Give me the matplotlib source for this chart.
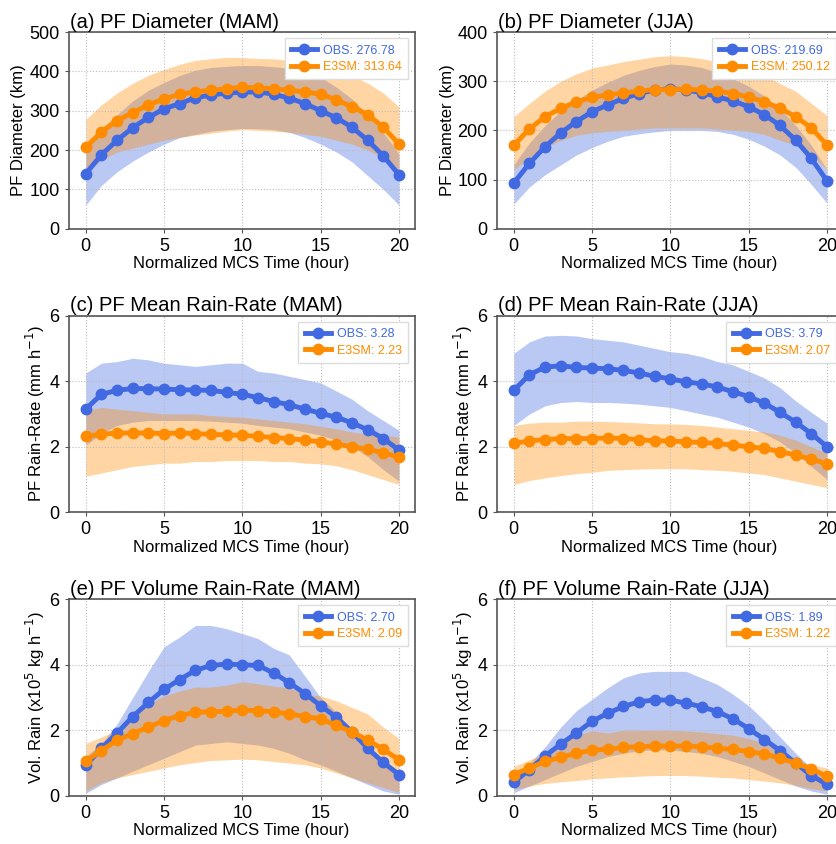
import numpy as np
import matplotlib.pyplot as plt

plt.rcParams['font.family'] = ['Liberation Sans', 'DejaVu Sans']

hours = np.arange(21)

# (a) PF diameter MAM
obs_a = [140, 188, 225, 257, 283, 305, 318, 333, 340, 345, 347, 348, 342, 332, 318, 300, 282, 258, 225, 185, 137]
obs_a_lo = [60, 110, 145, 172, 195, 215, 232, 240, 248, 252, 255, 254, 252, 245, 232, 215, 195, 170, 135, 100, 60]
obs_a_hi = [195, 255, 290, 325, 352, 372, 390, 403, 410, 413, 415, 415, 412, 408, 400, 385, 360, 330, 290, 245, 190]
e3_a = [207, 246, 275, 295, 315, 330, 342, 348, 352, 356, 360, 358, 356, 352, 348, 342, 328, 310, 290, 258, 215]
e3_a_lo = [140, 175, 195, 205, 215, 225, 232, 238, 243, 248, 252, 250, 248, 245, 240, 235, 225, 215, 200, 180, 145]
e3_a_hi = [278, 315, 345, 370, 390, 405, 418, 428, 432, 436, 435, 433, 432, 428, 420, 412, 400, 390, 370, 345, 310]

# (b) PF diameter JJA
obs_b = [93, 133, 167, 195, 218, 238, 252, 265, 275, 282, 285, 282, 277, 268, 260, 248, 232, 210, 180, 143, 97]
obs_b_lo = [50, 85, 110, 130, 150, 165, 178, 188, 193, 197, 200, 200, 200, 198, 192, 182, 168, 150, 125, 90, 52]
obs_b_hi = [130, 175, 210, 240, 262, 282, 298, 312, 322, 330, 335, 333, 328, 318, 305, 290, 270, 245, 210, 170, 120]
e3_b = [170, 203, 228, 245, 258, 267, 272, 276, 280, 283, 283, 284, 282, 280, 275, 268, 258, 245, 228, 205, 170]
e3_b_lo = [120, 145, 165, 180, 190, 195, 198, 200, 203, 205, 205, 205, 205, 203, 200, 198, 192, 180, 170, 150, 120]
e3_b_hi = [228, 255, 280, 300, 315, 327, 333, 340, 345, 350, 352, 350, 346, 340, 333, 325, 313, 295, 280, 255, 230]

# (c) mean rain rate MAM
obs_c = [3.15, 3.6, 3.72, 3.78, 3.77, 3.76, 3.74, 3.73, 3.72, 3.66, 3.6, 3.5, 3.38, 3.28, 3.15, 3.02, 2.9, 2.73, 2.52, 2.25, 1.9]
obs_c_lo = [2.05, 2.4, 2.65, 2.75, 2.8, 2.8, 2.8, 2.8, 2.78, 2.75, 2.72, 2.65, 2.6, 2.55, 2.45, 2.35, 2.2, 2.0, 1.7, 1.3, 0.95]
obs_c_hi = [4.25, 4.55, 4.6, 4.7, 4.65, 4.55, 4.5, 4.45, 4.5, 4.55, 4.55, 4.3, 4.25, 4.15, 4.05, 3.95, 3.7, 3.45, 3.1, 2.8, 2.5]
e3_c = [2.32, 2.38, 2.42, 2.42, 2.42, 2.4, 2.42, 2.4, 2.38, 2.36, 2.35, 2.32, 2.28, 2.25, 2.2, 2.15, 2.08, 2.0, 1.92, 1.82, 1.68]
e3_c_lo = [1.1, 1.2, 1.3, 1.4, 1.45, 1.5, 1.5, 1.55, 1.55, 1.58, 1.58, 1.58, 1.55, 1.55, 1.5, 1.48, 1.42, 1.3, 1.15, 1.0, 0.85]
e3_c_hi = [3.1, 3.2, 3.15, 3.1, 3.05, 3.0, 3.0, 3.0, 2.95, 2.92, 2.9, 2.85, 2.8, 2.75, 2.7, 2.62, 2.55, 2.45, 2.38, 2.35, 2.3]

# (d) mean rain rate JJA
obs_d = [3.72, 4.2, 4.43, 4.47, 4.42, 4.4, 4.38, 4.33, 4.25, 4.15, 4.07, 3.98, 3.92, 3.82, 3.68, 3.53, 3.33, 3.05, 2.75, 2.4, 2.0]
obs_d_lo = [2.65, 3.0, 3.25, 3.35, 3.38, 3.35, 3.35, 3.33, 3.3, 3.25, 3.2, 3.1, 3.0, 2.9, 2.75, 2.6, 2.4, 2.15, 1.8, 1.4, 1.0]
obs_d_hi = [4.85, 5.2, 5.38, 5.4, 5.38, 5.3, 5.25, 5.2, 5.1, 5.0, 4.9, 4.85, 4.75, 4.6, 4.5, 4.3, 4.1, 3.8, 3.4, 3.05, 2.72]
e3_d = [2.1, 2.18, 2.22, 2.25, 2.25, 2.25, 2.27, 2.25, 2.22, 2.18, 2.18, 2.15, 2.13, 2.1, 2.05, 2.0, 1.95, 1.85, 1.75, 1.62, 1.48]
e3_d_lo = [0.85, 0.97, 1.05, 1.12, 1.18, 1.22, 1.28, 1.3, 1.32, 1.33, 1.33, 1.33, 1.3, 1.28, 1.25, 1.2, 1.15, 1.05, 0.95, 0.85, 0.75]
e3_d_hi = [2.65, 2.72, 2.75, 2.75, 2.78, 2.78, 2.77, 2.75, 2.73, 2.7, 2.7, 2.68, 2.65, 2.6, 2.55, 2.5, 2.45, 2.35, 2.2, 2.0, 1.8]

# (e) volume rain MAM
obs_e = [0.93, 1.45, 1.92, 2.42, 2.85, 3.25, 3.55, 3.83, 3.98, 4.02, 4.0, 3.98, 3.75, 3.45, 3.12, 2.75, 2.4, 1.95, 1.45, 1.02, 0.65]
obs_e_lo = [0.08, 0.35, 0.55, 0.75, 0.95, 1.15, 1.35, 1.55, 1.6, 1.65, 1.6, 1.55, 1.45, 1.3, 1.1, 0.95, 0.75, 0.55, 0.35, 0.15, 0.05]
obs_e_hi = [1.2, 1.6, 2.2, 3.0, 3.8, 4.55, 4.85, 5.2, 5.2, 5.1, 4.95, 4.8, 4.5, 4.3, 3.65, 3.0, 2.55, 2.0, 1.5, 1.05, 0.7]
e3_e = [1.07, 1.38, 1.7, 1.9, 2.1, 2.3, 2.45, 2.55, 2.57, 2.58, 2.62, 2.6, 2.57, 2.5, 2.42, 2.35, 2.15, 1.95, 1.7, 1.42, 1.1]
e3_e_lo = [0.15, 0.4, 0.55, 0.65, 0.75, 0.85, 0.95, 1.02, 1.08, 1.1, 1.12, 1.1, 1.05, 1.0, 0.95, 0.85, 0.7, 0.55, 0.4, 0.25, 0.1]
e3_e_hi = [1.6, 1.8, 2.0, 2.4, 2.8, 3.05, 3.2, 3.32, 3.32, 3.38, 3.48, 3.42, 3.35, 3.3, 3.1, 3.05, 2.9, 2.7, 2.5, 2.1, 1.75]

# (f) volume rain JJA
obs_f = [0.42, 0.8, 1.22, 1.58, 1.92, 2.28, 2.52, 2.73, 2.87, 2.93, 2.92, 2.83, 2.72, 2.57, 2.35, 2.05, 1.72, 1.38, 1.0, 0.62, 0.35]
obs_f_lo = [0.1, 0.3, 0.5, 0.7, 0.9, 1.05, 1.2, 1.3, 1.38, 1.4, 1.4, 1.35, 1.3, 1.2, 1.05, 0.9, 0.7, 0.5, 0.3, 0.15, 0.05]
obs_f_hi = [0.6, 1.0, 1.5, 2.1, 2.6, 2.95, 3.3, 3.6, 3.75, 3.8, 3.8, 3.8, 3.6, 3.4, 3.1, 2.75, 2.3, 1.8, 1.3, 0.85, 0.5]
e3_f = [0.65, 0.85, 1.05, 1.18, 1.3, 1.4, 1.42, 1.48, 1.5, 1.52, 1.52, 1.52, 1.5, 1.45, 1.42, 1.35, 1.28, 1.15, 1.0, 0.82, 0.6]
e3_f_lo = [0.2, 0.3, 0.38, 0.43, 0.47, 0.52, 0.55, 0.58, 0.6, 0.62, 0.62, 0.62, 0.6, 0.57, 0.55, 0.5, 0.45, 0.4, 0.32, 0.22, 0.15]
e3_f_hi = [0.9, 1.1, 1.3, 1.6, 1.85, 1.98, 1.92, 2.0, 2.0, 2.0, 2.0, 1.98, 1.95, 1.9, 1.85, 1.75, 1.6, 1.35, 1.1, 0.95, 0.85]

titles = ['(a) PF Diameter (MAM)', '(b) PF Diameter (JJA)',
          '(c) PF Mean Rain-Rate (MAM)', '(d) PF Mean Rain-Rate (JJA)',
          '(e) PF Volume Rain-Rate (MAM)', '(f) PF Volume Rain-Rate (JJA)']
ylabels = ['PF Diameter (km)', 'PF Diameter (km)',
           'PF Rain-Rate (mm h$^{-1}$)', 'PF Rain-Rate (mm h$^{-1}$)',
           'Vol. Rain (x10$^{5}$ kg h$^{-1}$)', 'Vol. Rain (x10$^{5}$ kg h$^{-1}$)']
ylims = [500, 400, 6, 6, 6, 6]
ysteps = [100, 100, 2, 2, 2, 2]
obs_means = ['276.78', '219.69', '3.28', '3.79', '2.70', '1.89']
e3_means = ['313.64', '250.12', '2.23', '2.07', '2.09', '1.22']

panels = [
    (obs_a, obs_a_lo, obs_a_hi, e3_a, e3_a_lo, e3_a_hi),
    (obs_b, obs_b_lo, obs_b_hi, e3_b, e3_b_lo, e3_b_hi),
    (obs_c, obs_c_lo, obs_c_hi, e3_c, e3_c_lo, e3_c_hi),
    (obs_d, obs_d_lo, obs_d_hi, e3_d, e3_d_lo, e3_d_hi),
    (obs_e, obs_e_lo, obs_e_hi, e3_e, e3_e_lo, e3_e_hi),
    (obs_f, obs_f_lo, obs_f_hi, e3_f, e3_f_lo, e3_f_hi),
]

c_obs = '#4169E1'
c_e3 = '#FF8C00'

fig = plt.figure(figsize=(8.36, 8.44), dpi=100)
lefts = [0.082, 0.594]
bottoms = [0.729, 0.393, 0.057]
w, h = 0.414, 0.233

for k, (o, olo, ohi, e, elo, ehi) in enumerate(panels):
    ax = fig.add_axes([lefts[k % 2], bottoms[k // 2], w, h])
    ax.fill_between(hours, olo, ohi, color=c_obs, alpha=0.36, lw=0)
    ax.fill_between(hours, elo, ehi, color=c_e3, alpha=0.36, lw=0)
    ax.plot(hours, o, '-o', color=c_obs, lw=3.5, ms=7.5, label='OBS: ' + obs_means[k])
    ax.plot(hours, e, '-o', color=c_e3, lw=3.5, ms=7.5, label='E3SM: ' + e3_means[k])
    ax.set_xlim(-1.1, 21)
    ax.set_ylim(0, ylims[k])
    ax.set_xticks([0, 5, 10, 15, 20])
    ax.set_yticks(np.arange(0, ylims[k] + 1e-9, ysteps[k]))
    ax.tick_params(labelsize=13, length=3, color='#555555')
    ax.grid(True, ls=':', color='#bbbbbb', lw=0.8)
    for sp in ax.spines.values():
        sp.set_color('#555555')
        sp.set_linewidth(1.2)
    ax.set_title(titles[k], loc='left', fontsize=14.5, pad=3, x=0.005)
    ax.set_xlabel('Normalized MCS Time (hour)', fontsize=12, labelpad=1)
    ax.set_ylabel(ylabels[k], fontsize=12, labelpad=2)
    leg = ax.legend(loc='upper right', fontsize=9, handlelength=2.1, borderpad=0.5,
                    labelspacing=0.35, handletextpad=0.5, framealpha=1, fancybox=False)
    leg.get_frame().set_edgecolor('#dddddd')
    for txt, col in zip(leg.get_texts(), [c_obs, c_e3]):
        txt.set_color(col)

plt.savefig('out.png', dpi=100)
